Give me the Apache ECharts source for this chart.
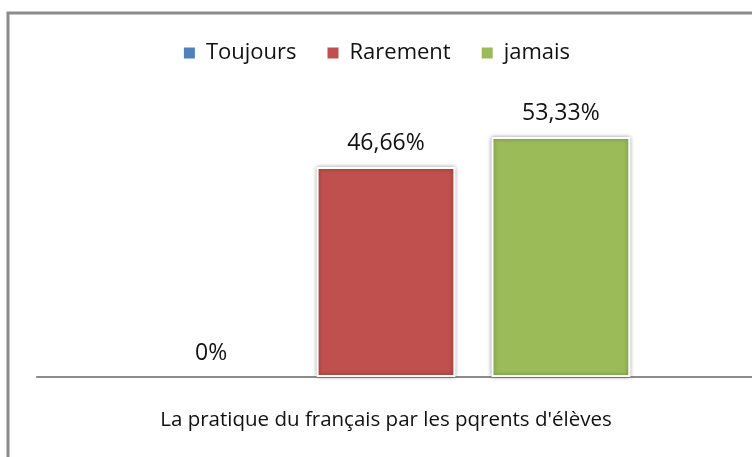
<!DOCTYPE html>
<html lang="fr">
<head>
  <meta charset="UTF-8">
  <title>Pratique du français</title>
  <script src="https://cdn.jsdelivr.net/npm/echarts@6/dist/echarts.min.js"></script>
  <style>
    * { margin: 0; padding: 0; }
    body { background: #fff; }
    #chart { width: 752px; height: 457px; }
  </style>
</head>
<body>
  <div id="chart"></div>
  <script>
    // données
    const categories = ["La pratique du français par les pqrents d'élèves"]
    const seriesNames = ['Toujours', 'Rarement', 'jamais']
    const seriesValues = [[0], [46.66], [53.33]]
    const colors = ['#4F81BD', '#C0504D', '#9BBB59']

    const font = '"Open Sans", sans-serif'
    const chart = echarts.init(document.getElementById('chart'))

    const series = seriesNames.map((name, i) => ({
      name: name,
      type: 'bar',
      // pas de bordure/ombre pour une barre nulle
      data: seriesValues[i].map(v => ({
        value: v,
        itemStyle: v ? {} : { borderWidth: 0, shadowBlur: 0 }
      })),
      barGap: '26%',
      barCategoryGap: '30%',
      itemStyle: {
        color: colors[i],
        borderColor: '#fff',
        borderWidth: 2,
        shadowBlur: 4,
        shadowColor: 'rgba(0,0,0,0.35)'
      },
      label: {
        show: true,
        position: 'top',
        distance: 12,
        color: '#111',
        fontSize: 23,
        fontFamily: font,
        formatter: p => String(p.value).replace('.', ',') + '%'
      }
    }))

    const option = {
      animation: false,
      color: colors,
      graphic: [{
        type: 'rect',
        shape: { x: 8, y: 13, width: 760, height: 460 },
        style: { fill: 'none', stroke: '#8c8c8c', lineWidth: 3 },
        silent: true
      }, {
        // l'axe continue jusqu'au bord droit
        type: 'line',
        shape: { x1: 734, y1: 377, x2: 752, y2: 377 },
        style: { stroke: '#8c8c8c', lineWidth: 2 },
        silent: true
      }],
      legend: {
        top: 37,
        left: 'center',
        itemWidth: 13,
        itemHeight: 13,
        itemGap: 29,
        icon: 'rect',
        textStyle: { fontSize: 22, fontFamily: font, color: '#111', padding: [0, 0, 0, 5] },
        data: seriesNames
      },
      grid: { left: 37, right: 17, top: 107, bottom: 80 },
      xAxis: {
        type: 'category',
        data: categories,
        axisLine: { lineStyle: { color: '#8c8c8c', width: 2 } },
        axisTick: { show: false },
        axisLabel: { margin: 33, fontSize: 20.5, fontFamily: font, color: '#111' }
      },
      yAxis: {
        type: 'value',
        min: 0,
        max: 60,
        show: false
      },
      series: series
    }

    chart.setOption(option)
  </script>
</body>
</html>
